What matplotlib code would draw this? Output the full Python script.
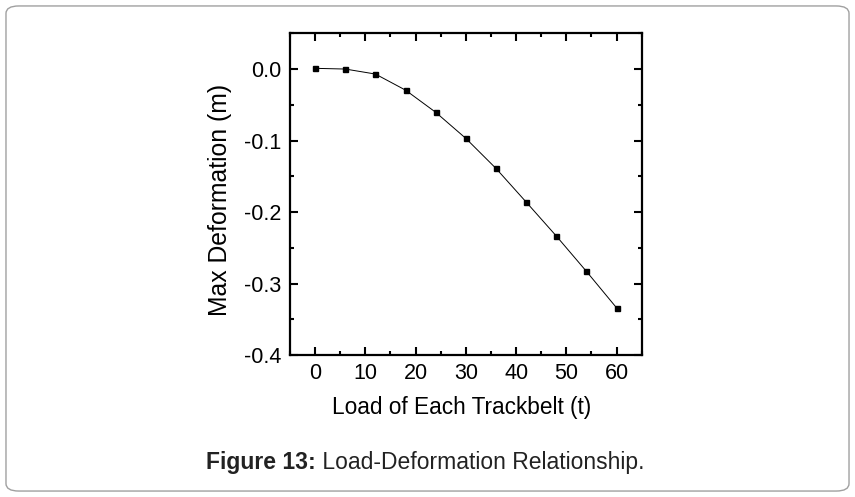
import matplotlib
matplotlib.use('Agg')
import matplotlib.pyplot as plt
from matplotlib.patches import FancyBboxPatch
from matplotlib.ticker import MultipleLocator, FormatStrFormatter

plt.rcParams['font.family'] = ['Liberation Sans', 'DejaVu Sans']

# load on each trackbelt (t) and max deformation (m)
load = [0, 6, 12, 18, 24, 30, 36, 42, 48, 54, 60]
deformation = [0.001, 0.0, -0.007, -0.0295, -0.0605, -0.097, -0.139,
               -0.186, -0.2335, -0.283, -0.334]

fig = plt.figure(figsize=(8.55, 4.97), dpi=100)

# rounded frame around the whole figure
frame = FancyBboxPatch((0.007, 0.012), 0.986, 0.976,
                       boxstyle='round,pad=0,rounding_size=0.015',
                       transform=fig.transFigure, facecolor='none',
                       edgecolor='#a0a0a0', linewidth=1.0, zorder=-1)
fig.patches.append(frame)

ax = fig.add_axes([0.3392, 0.2857, 0.4113, 0.6473])
ax.plot(load, deformation, color='black', linewidth=0.7,
        marker='s', markersize=3.6)

ax.set_xlim(-5, 65)
ax.set_ylim(-0.4, 0.05)
ax.xaxis.set_major_locator(MultipleLocator(10))
ax.xaxis.set_minor_locator(MultipleLocator(5))
ax.yaxis.set_major_locator(MultipleLocator(0.1))
ax.yaxis.set_minor_locator(MultipleLocator(0.05))
ax.yaxis.set_major_formatter(FormatStrFormatter('%.1f'))

ax.tick_params(which='both', direction='in', top=True, right=True,
               width=1.5, labelsize=15.5)
ax.tick_params(which='major', length=6, pad=6)
ax.tick_params(which='minor', length=3)
for s in ax.spines.values():
    s.set_linewidth(1.6)

ax.set_xlabel('Load of Each Trackbelt (t)', fontsize=16.3)
ax.set_ylabel('Max Deformation (m)', fontsize=17.8)
ax.xaxis.set_label_coords(0.488, -0.127)
ax.yaxis.set_label_coords(-0.166, 0.481)

# caption: bold "Figure 13:" followed by regular text
cap_x, cap_y = 206 / 855, 0.07
t1 = fig.text(cap_x, cap_y, 'Figure 13:', fontsize=16.5, fontweight='bold',
              ha='left', va='center', color='#222222')
fig.canvas.draw()
bb = t1.get_window_extent()
fig.text(bb.x1 / fig.bbox.width, cap_y, ' Load-Deformation Relationship.',
         fontsize=16.5, ha='left', va='center', color='#222222')

fig.savefig('out.png', dpi=100)
